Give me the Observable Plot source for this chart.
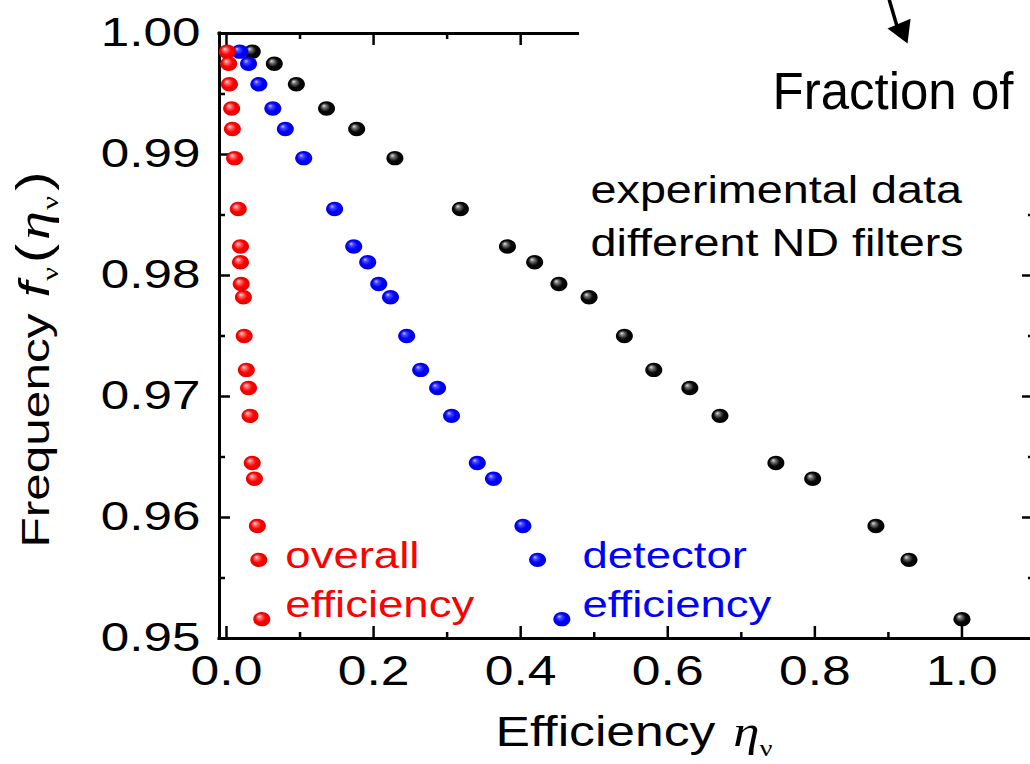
<!DOCTYPE html>
<html>
<head>
<meta charset="utf-8">
<script src="https://cdn.jsdelivr.net/npm/d3@7"></script>
<script src="https://cdn.jsdelivr.net/npm/@observablehq/plot@0.6"></script>
<style>
  html, body { margin: 0; padding: 0; background: white; }
  #chart { width: 1030px; height: 764px; overflow: hidden; }
</style>
</head>
<body>
<div id="chart"></div>
<script>
// ---- data ----
const frequency = [0.9985, 0.9975, 0.9958, 0.9938, 0.9921, 0.9897, 0.9855, 0.9824, 0.9811, 0.9793,
                   0.9782, 0.9750, 0.9722, 0.9707, 0.9684, 0.9645, 0.9632, 0.9593, 0.9565, 0.9516];
const fractionEff = [0.035, 0.065, 0.095, 0.136, 0.177, 0.229, 0.318, 0.382, 0.419, 0.452,
                     0.493, 0.541, 0.581, 0.630, 0.671, 0.747, 0.797, 0.883, 0.928, 1.000];
const detectorEff = [0.018, 0.030, 0.044, 0.063, 0.080, 0.105, 0.147, 0.173, 0.192, 0.207,
                     0.223, 0.245, 0.264, 0.287, 0.306, 0.341, 0.363, 0.403, 0.423, 0.456];
const overallEff = [0.001, 0.003, 0.004, 0.007, 0.008, 0.011, 0.016, 0.019, 0.019, 0.020,
                    0.023, 0.024, 0.027, 0.030, 0.032, 0.035, 0.038, 0.042, 0.044, 0.048];

const xTickValues = [0.0, 0.2, 0.4, 0.6, 0.8, 1.0];
const xTickLabels = ["0.0", "0.2", "0.4", "0.6", "0.8", "1.0"];
const xMinorTicks = [0.1, 0.3, 0.5, 0.7, 0.9];
const yTickValues = [0.95, 0.96, 0.97, 0.98, 0.99, 1.00];
const yTickLabels = ["0.95", "0.96", "0.97", "0.98", "0.99", "1.00"];
const yMinorTicks = [0.955, 0.965, 0.975, 0.985, 0.995];

const notes = [
  {x: 0.080, y: 0.95579, text: "overall", color: "#ff0000"},
  {x: 0.080, y: 0.95174, text: "efficiency", color: "#ff0000"},
  {x: 0.484, y: 0.95579, text: "detector", color: "#0000ff"},
  {x: 0.484, y: 0.95174, text: "efficiency", color: "#0000ff"}
];
const legendNote = [{x: 0.495, y: 0.98165, text: "experimental data\ndifferent ND filters"}];
const fractionNote = [{x: 1.070, y: 0.99380, text: "Fraction of"}];
const arrowShaft = [{x: 0.9014, y: 1.00273}, {x: 0.9110, y: 1.00074}];
const arrowHead = [{x: 0.9183, y: 1.00027}];

// ---- layout ----
const W = 1030, H = 764;
const mL = 219, mR = -5, mT = 33, mB = 126;
const frameW = W - mL - mR, frameH = H - mT - mB;
const xMin = -0.0095, xMax = 1.1;
const topSpineEnd = 0.478;   // the top frame is hidden beyond this point in the reference
const rightTickMax = 0.986;  // right-side ticks hidden above this value

// ellipse symbol (markers are slightly wider than tall)
const ellipse = {
  draw(ctx, size) {
    const r = Math.sqrt(size / Math.PI);
    const rx = r * 1.12, ry = r * 0.95, k = 0.5523;
    ctx.moveTo(rx, 0);
    ctx.bezierCurveTo(rx, ry * k, rx * k, ry, 0, ry);
    ctx.bezierCurveTo(-rx * k, ry, -rx, ry * k, -rx, 0);
    ctx.bezierCurveTo(-rx, -ry * k, -rx * k, -ry, 0, -ry);
    ctx.bezierCurveTo(rx * k, -ry, rx, -ry * k, rx, 0);
    ctx.closePath();
  }
};

const idx = d3.range(frequency.length);
const sans = "'Liberation Sans', Arial, Helvetica, sans-serif";

const plot = Plot.plot({
  width: W, height: H,
  marginLeft: mL, marginRight: mR, marginTop: mT, marginBottom: mB,
  x: {domain: [xMin, xMax], axis: null},
  y: {domain: [0.95, 1.0], axis: null},
  style: {fontFamily: sans, background: "white", color: "black"},
  marks: [
    // spines
    Plot.ruleX([xMin], {stroke: "black", strokeWidth: 3, strokeLinecap: "square"}),
    Plot.ruleY([0.95], {stroke: "black", strokeWidth: 3, strokeLinecap: "square"}),
    Plot.ruleY([1.0], {x1: xMin, x2: topSpineEnd, stroke: "black", strokeWidth: 3, strokeLinecap: "square"}),
    // bottom ticks (inward)
    Plot.tickX(xTickValues, {x: d => d, insetTop: frameH - 12, stroke: "black", strokeWidth: 2.5}),
    Plot.tickX(xMinorTicks, {x: d => d, insetTop: frameH - 6, stroke: "black", strokeWidth: 2.5}),
    // top ticks (inward)
    Plot.tickX(xTickValues.filter(v => v < topSpineEnd), {x: d => d, insetBottom: frameH - 12, stroke: "black", strokeWidth: 2.5}),
    Plot.tickX(xMinorTicks.filter(v => v < topSpineEnd), {x: d => d, insetBottom: frameH - 6, stroke: "black", strokeWidth: 2.5}),
    // left ticks (inward)
    Plot.tickY(yTickValues, {y: d => d, insetRight: frameW - 11, stroke: "black", strokeWidth: 2.5}),
    Plot.tickY(yMinorTicks, {y: d => d, insetRight: frameW - 6, stroke: "black", strokeWidth: 2.5}),
    // right ticks (inward)
    Plot.tickY(yTickValues.filter(v => v < rightTickMax), {y: d => d, insetLeft: frameW - 13, stroke: "black", strokeWidth: 2.5}),
    Plot.tickY(yMinorTicks.filter(v => v < rightTickMax), {y: d => d, insetLeft: frameW - 7, stroke: "black", strokeWidth: 2.5}),

    // data
    Plot.dot(idx, {x: i => fractionEff[i], y: i => frequency[i], r: 7.6, symbol: ellipse, fill: "url(#ballBlack)", stroke: "none"}),
    Plot.dot(idx, {x: i => detectorEff[i], y: i => frequency[i], r: 7.6, symbol: ellipse, fill: "url(#ballBlue)", stroke: "none"}),
    Plot.dot(idx, {x: i => overallEff[i], y: i => frequency[i], r: 7.6, symbol: ellipse, fill: "url(#ballRed)", stroke: "none"}),

    // tick labels
    Plot.text(xTickLabels, {x: (d, i) => xTickValues[i], text: d => d, frameAnchor: "bottom", lineAnchor: "top",
      dy: 17, fontSize: 42, fill: "black", ariaDescription: "xticklabels"}),
    Plot.text(yTickLabels, {y: (d, i) => yTickValues[i], text: d => d, frameAnchor: "left", textAnchor: "end",
      lineAnchor: "middle", dx: -19, fontSize: 40, fill: "black", ariaDescription: "yticklabels"}),

    // axis titles
    Plot.text(["Efficiency ην"], {frameAnchor: "bottom-left", textAnchor: "start", lineAnchor: "bottom",
      dx: 276, dy: 107, fontSize: 43, fill: "black", ariaDescription: "xlabel"}),
    Plot.text(["Frequency fν(ην)"], {frameAnchor: "bottom-left", textAnchor: "start", lineAnchor: "bottom",
      dx: -171, dy: -91, rotate: -90, fontSize: 39, fill: "black", ariaDescription: "ylabel"}),

    // annotations
    Plot.text(notes, {x: "x", y: "y", text: "text", fill: "color", textAnchor: "start", lineAnchor: "bottom",
      fontSize: 37, ariaDescription: "notes"}),
    Plot.text(legendNote, {x: "x", y: "y", text: "text", textAnchor: "start", lineAnchor: "bottom",
      lineHeight: 1.37, fontSize: 38, fill: "black", ariaDescription: "legendnote"}),
    Plot.text(fractionNote, {x: "x", y: "y", text: "text", textAnchor: "end", lineAnchor: "bottom",
      fontSize: 51, fill: "black", ariaDescription: "fraction"}),
    Plot.line(arrowShaft, {x: "x", y: "y", stroke: "black", strokeWidth: 3.5}),
    Plot.dot(arrowHead, {x: "x", y: "y", symbol: "triangle", r: 9.3, rotate: 157, fill: "black", stroke: "none"})
  ]
});

// gradients for the shaded ball markers
const ns = "http://www.w3.org/2000/svg";
const defs = document.createElementNS(ns, "defs");
defs.innerHTML = `
  <radialGradient id="ballRed" cx="0.5" cy="0.5" r="0.55" fx="0.33" fy="0.3">
    <stop offset="0" stop-color="#ffe8e8"/>
    <stop offset="0.22" stop-color="#ff7070"/>
    <stop offset="0.55" stop-color="#ff0000"/>
    <stop offset="1" stop-color="#e00000"/>
  </radialGradient>
  <radialGradient id="ballBlue" cx="0.5" cy="0.5" r="0.55" fx="0.33" fy="0.3">
    <stop offset="0" stop-color="#c8c8ff"/>
    <stop offset="0.22" stop-color="#4a4aff"/>
    <stop offset="0.55" stop-color="#0000ff"/>
    <stop offset="1" stop-color="#0000d8"/>
  </radialGradient>
  <radialGradient id="ballBlack" cx="0.5" cy="0.5" r="0.55" fx="0.33" fy="0.3">
    <stop offset="0" stop-color="#e6e6e6"/>
    <stop offset="0.22" stop-color="#777777"/>
    <stop offset="0.55" stop-color="#080808"/>
    <stop offset="1" stop-color="#000000"/>
  </radialGradient>`;
plot.insertBefore(defs, plot.firstChild);

// find a text group by its description (fallback: by its text content)
function groupTexts(desc, firstText) {
  let texts = Array.from(plot.querySelectorAll(`g[aria-description="${desc}"] text`));
  if (!texts.length && firstText) {
    const hit = Array.from(plot.querySelectorAll("text")).find(t => t.textContent.startsWith(firstText));
    if (hit) texts = Array.from(hit.parentNode.querySelectorAll("text"));
  }
  return texts;
}

// math typesetting for the axis titles
function typeset(texts, parts) {
  texts.forEach(t => {
    t.textContent = "";
    for (const p of parts) {
      const ts = document.createElementNS(ns, "tspan");
      for (const [k, v] of Object.entries(p.attrs || {})) ts.setAttribute(k, v);
      ts.textContent = p.t;
      t.appendChild(ts);
    }
  });
}

const groups = {
  xticklabels: {s: 1.23, first: "0.0"},
  yticklabels: {s: 1.28, first: "0.95"},
  xlabel: {s: 1.2, first: "Efficiency"},
  ylabel: {s: 1.27, first: "Frequency"},
  notes: {s: 1.23, first: "overall"},
  legendnote: {s: 1.23, first: "experimental"},
  fraction: {s: 1.0, first: "Fraction"}
};
const found = {};
for (const [k, g] of Object.entries(groups)) found[k] = groupTexts(k, g.first);

const serif = "'Liberation Serif', 'Times New Roman', serif";
typeset(found.xlabel, [
  {t: "Efficiency "},
  {t: "η", attrs: {"font-family": serif, "font-style": "italic", "font-size": 44, dx: 3}},
  {t: "ν", attrs: {"font-family": serif, "font-size": 24, dy: 10}}
]);
typeset(found.ylabel, [
  {t: "Frequency "},
  {t: "f", attrs: {"font-style": "italic", "font-size": 43, dx: 2}},
  {t: "ν", attrs: {"font-family": serif, "font-size": 24, dy: 9, dx: 1}},
  {t: "(", attrs: {"font-size": 46, dy: -9, dx: 3}},
  {t: "η", attrs: {"font-family": serif, "font-style": "italic", "font-size": 46, dx: 3}},
  {t: "ν", attrs: {"font-family": serif, "font-size": 24, dy: 9, dx: 1}},
  {t: ")", attrs: {"font-size": 46, dy: -9, dx: 4}}
]);

// horizontal stretch of the glyphs, as in the reference
for (const [k, g] of Object.entries(groups)) {
  found[k].forEach(t => {
    const tr = t.getAttribute("transform") || "";
    t.setAttribute("transform", `${tr} scale(${g.s},1)`);
  });
}

document.getElementById("chart").appendChild(plot);
</script>
</body>
</html>
